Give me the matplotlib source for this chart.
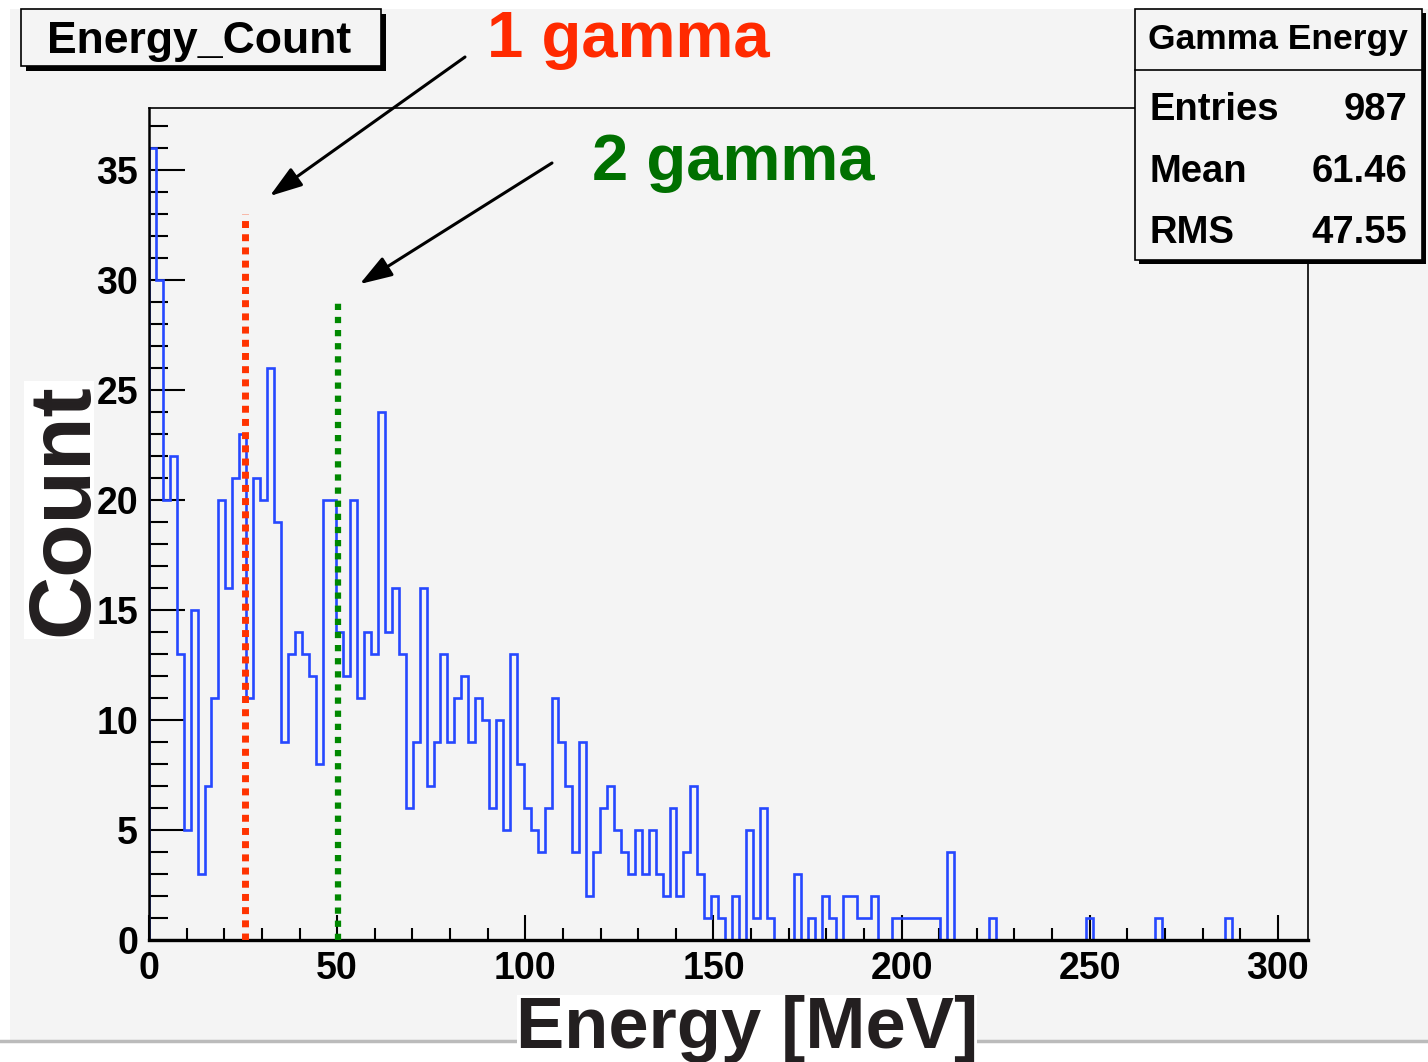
import numpy as np
import matplotlib.pyplot as plt
from matplotlib.patches import Rectangle
from matplotlib.lines import Line2D
from matplotlib.ticker import MultipleLocator

plt.rcParams['font.family'] = ['Liberation Sans', 'DejaVu Sans']
plt.rcParams['font.weight'] = 'bold'

# histogram: 167 bins from 0 to 308 MeV
e_min, e_max, n_bins = 0, 308, 167
counts_0_53 = [36, 30, 20, 22, 13, 5, 15, 3, 7, 11, 20, 16, 21, 23, 11, 21, 20, 26,
               19, 9, 13, 14, 13, 12, 8, 20, 20, 14, 12, 20, 11, 14, 13, 24, 14, 16,
               13, 6, 9, 16, 7, 9, 13, 9, 11, 12, 9, 11, 10, 6, 10, 5, 13, 8]
counts_54_106 = [6, 5, 4, 6, 11, 9, 7, 4, 9, 2, 4, 6, 7, 5, 4, 3, 5, 3, 5, 3, 2, 6,
                 2, 4, 7, 3, 1, 2, 1, 0, 2, 0, 5, 1, 6, 1, 0, 0, 0, 3, 0, 1, 0, 2,
                 1, 0, 2, 2, 1, 1, 2, 0, 0]
counts_107_166 = [1, 1, 1, 1, 1, 1, 1, 0, 4, 0, 0, 0, 0, 0, 1, 0, 0, 0, 0, 0,
                  0, 0, 0, 0, 0, 0, 0, 0, 1, 0, 0, 0, 0, 0, 0, 0, 0, 0, 1, 0,
                  0, 0, 0, 0, 0, 0, 0, 0, 1, 0, 0, 0, 0, 0, 0, 0, 0, 0, 0, 0]
counts = np.array(counts_0_53 + counts_54_106 + counts_107_166)
edges = np.linspace(e_min, e_max, n_bins + 1)

# marker lines (energy, height)
one_gamma = (25.4, 33)
two_gamma = (50.1, 29)

stats_names = ['Entries', 'Mean', 'RMS']
stats_values = ['987', '61.46', '47.55']

W, H = 1428, 1062
def fx(px):
    return px / W
def fy(py):
    return 1 - py / H

fig = plt.figure(figsize=(W / 100, H / 100), dpi=100, facecolor='white')
bg = '#f4f4f4'
dark = '#231f20'

# grey pad background
fig.patches.append(Rectangle((fx(10), fy(1041)), fx(1428) - fx(10), fy(9) - fy(1041),
                             transform=fig.transFigure, fc=bg, ec='none', zorder=-5))
fig.lines.append(Line2D([fx(0), fx(1428)], [fy(1041), fy(1041)], transform=fig.transFigure,
                        color='#bbbbbb', lw=2.5, zorder=-4))

ax = fig.add_axes([fx(149), fy(940), (1308 - 149) / W, (940 - 108) / H])
ax.set_facecolor('none')

ax.stairs(counts, edges, baseline=0, color='#2648ff', lw=1.9, zorder=2)

ax.plot([one_gamma[0]] * 2, [0, one_gamma[1]], color='#ff3300', lw=5,
        linestyle=(0, (1, 0.9)), dash_capstyle='butt', zorder=3)
ax.plot([two_gamma[0]] * 2, [0, two_gamma[1]], color='#008800', lw=4.5,
        linestyle=(0, (1, 1.1)), dash_capstyle='butt', zorder=3)

ax.set_xlim(e_min, e_max)
ax.set_ylim(0, 37.8)
ax.xaxis.set_major_locator(MultipleLocator(50))
ax.xaxis.set_minor_locator(MultipleLocator(10))
ax.yaxis.set_major_locator(MultipleLocator(5))
ax.yaxis.set_minor_locator(MultipleLocator(1))
ax.tick_params(axis='both', which='both', direction='in', width=1.5, colors='black',
               labelsize=27)
ax.tick_params(axis='y', which='major', length=26, pad=8)
ax.tick_params(axis='y', which='minor', length=13.5)
ax.tick_params(axis='x', which='major', length=18, pad=8)
ax.tick_params(axis='x', which='minor', length=9)
for s in ['top', 'right']:
    ax.spines[s].set_linewidth(1.2)
ax.spines['left'].set_linewidth(1.8)
ax.spines['bottom'].set_linewidth(2.4)

# axis titles on white patches
fig.patches.append(Rectangle((fx(24), fy(639)), (94 - 24) / W, (639 - 381) / H,
                             transform=fig.transFigure, fc='white', ec='none', zorder=2))
fig.text(fx(87), fy(510), 'Count', rotation=90, rotation_mode='anchor',
         ha='center', va='baseline', fontsize=63, color=dark, zorder=3)
fig.patches.append(Rectangle((fx(517), fy(1062)), (977 - 517) / W, (1062 - 995) / H,
                             transform=fig.transFigure, fc='white', ec='none', zorder=2))
fig.text(fx(747), fy(1048), 'Energy [MeV]', ha='center', va='baseline',
         fontsize=52, color=dark, zorder=3)

# title box with shadow
fig.patches.append(Rectangle((fx(26), fy(71)), (381 - 21) / W, (66 - 9) / H,
                             transform=fig.transFigure, fc='black', ec='none', zorder=5))
fig.patches.append(Rectangle((fx(21), fy(66)), (381 - 21) / W, (66 - 9) / H,
                             transform=fig.transFigure, fc=bg, ec='black', lw=1.2, zorder=6))
fig.text(fx(47), fy(53), 'Energy_Count', fontsize=32, va='baseline', zorder=7)

# stats box with shadow
fig.patches.append(Rectangle((fx(1139), fy(264)), (1422 - 1135) / W, (260 - 9) / H,
                             transform=fig.transFigure, fc='black', ec='none', zorder=5))
fig.patches.append(Rectangle((fx(1135), fy(260)), (1422 - 1135) / W, (260 - 9) / H,
                             transform=fig.transFigure, fc=bg, ec='black', lw=1.2, zorder=6))
fig.lines.append(Line2D([fx(1135), fx(1422)], [fy(70), fy(70)], transform=fig.transFigure,
                        color='black', lw=1.2, zorder=7))
fig.text(fx(1148), fy(49), 'Gamma Energy', fontsize=25.5, va='baseline', zorder=7)
for i, (name, val) in enumerate(zip(stats_names, stats_values)):
    base = [120, 182, 243][i]
    fig.text(fx(1150), fy(base), name, fontsize=27.5, va='baseline', zorder=7)
    fig.text(fx(1407), fy(base), val, fontsize=27.5, va='baseline', ha='right', zorder=7)

# annotations
fig.text(fx(487), fy(57), '1 gamma', fontsize=47, color='#ff2a00', va='baseline')
fig.text(fx(592), fy(180), '2 gamma', fontsize=47, color='#007000', va='baseline')
arrow = dict(arrowstyle='-|>,head_length=0.9,head_width=0.3', lw=2.2, color='black',
             shrinkA=0, shrinkB=0, mutation_scale=22)
ax.annotate('', xy=(one_gamma[0] + 6.7, one_gamma[1] + 0.8), xycoords='data',
            xytext=(fx(465), fy(57)), textcoords='figure fraction', arrowprops=arrow)
ax.annotate('', xy=(two_gamma[0] + 5.9, two_gamma[1] + 0.8), xycoords='data',
            xytext=(fx(552), fy(163)), textcoords='figure fraction', arrowprops=arrow)

fig.savefig('out.png', dpi=100, facecolor=fig.get_facecolor())
